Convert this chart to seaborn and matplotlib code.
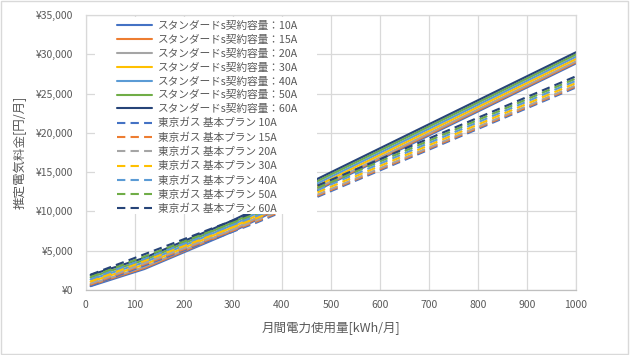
import matplotlib
matplotlib.use('Agg')
import matplotlib.pyplot as plt
from matplotlib.patches import Rectangle
from matplotlib.ticker import FuncFormatter
import seaborn as sns

# monthly usage [kWh] at the points where the rate tiers change
kwh = [10, 120, 140, 300, 350, 1000]

capacities = ['10A', '15A', '20A', '30A', '40A', '50A', '60A']
colors = ['#4472C4', '#ED7D31', '#A5A5A5', '#FFC000', '#5B9BD5', '#70AD47', '#264478']

# スタンダードS, yen per month
standard_s = [
    [485, 2672, 3201, 7438, 8967, 28837],
    [628, 2815, 3344, 7581, 9110, 28980],
    [771, 2958, 3487, 7724, 9253, 29123],
    [1057, 3244, 3773, 8010, 9539, 29409],
    [1343, 3530, 4059, 8296, 9825, 29695],
    [1629, 3816, 4345, 8582, 10111, 29981],
    [1915, 4102, 4631, 8868, 10397, 30267],
]

# 東京ガス 基本プラン, yen per month
tokyo_gas = [
    [523, 3126, 3600, 7421, 8615, 25781],
    [666, 3269, 3743, 7564, 8758, 25924],
    [809, 3412, 3886, 7707, 8901, 26067],
    [1095, 3698, 4172, 7993, 9187, 26353],
    [1381, 3984, 4458, 8279, 9473, 26639],
    [1667, 4270, 4744, 8565, 9759, 26925],
    [1953, 4556, 5030, 8851, 10045, 27211],
]

sns.set_style('white')
plt.rcParams['font.family'] = ['Noto Sans CJK JP', 'DejaVu Sans']
grey = '#595959'

fig, ax = plt.subplots(figsize=(6.31, 3.55), dpi=100)
fig.subplots_adjust(left=0.1358, right=0.9129, bottom=0.1831, top=0.9577)

for cap, col, vals in zip(capacities, colors, standard_s):
    sns.lineplot(x=kwh, y=vals, color=col, lw=1.5, ax=ax,
                 label='スタンダードs契約容量：' + cap)
for cap, col, vals in zip(capacities, colors, tokyo_gas):
    sns.lineplot(x=kwh, y=vals, color=col, lw=1.5, ax=ax,
                 linestyle=(0, (4, 2.5)), label='東京ガス 基本プラン ' + cap)

ax.set_xlim(0, 1000)
ax.set_ylim(0, 35000)
ax.set_xticks(range(0, 1001, 100))
ax.set_yticks(range(0, 35001, 5000))
ax.yaxis.set_major_formatter(FuncFormatter(lambda v, p: '¥{:,.0f}'.format(v)))
ax.grid(True, color='#d9d9d9', lw=0.9)
ax.set_axisbelow(True)
for s in ax.spines.values():
    s.set_color('#d9d9d9')
    s.set_linewidth(0.9)
ax.spines['bottom'].set_color('#bfbfbf')
ax.tick_params(axis='both', length=0, labelsize=7.5, labelcolor=grey)
ax.tick_params(axis='x', pad=7.5)
ax.tick_params(axis='y', pad=9)

ax.set_xlabel('月間電力使用量[kWh/月]', fontsize=9, color=grey)
ax.set_ylabel('推定電気料金[円/月]', fontsize=9, color=grey)
ax.xaxis.set_label_coords(0.5, -0.116)
ax.yaxis.set_label_coords(-0.12, 0.5)

# white legend area covering the lines, like the Excel chart
ax.add_patch(Rectangle((0.019, 0.276), 0.453, 0.717, transform=ax.transAxes,
                       facecolor='white', edgecolor='none', zorder=3))
handles, labels = ax.get_legend_handles_labels()
ax.legend(handles, labels, loc='upper left', bbox_to_anchor=(0.064, 0.978),
          frameon=False, borderpad=0, borderaxespad=0, handlelength=3.3,
          handletextpad=0.5, labelspacing=0.35, fontsize=7.7, labelcolor=grey)

fig.patches.append(Rectangle((0.002, 0.004), 0.994, 0.993, transform=fig.transFigure,
                             facecolor='none', edgecolor='#d9d9d9', lw=1))

fig.savefig('out.png', dpi=100)
